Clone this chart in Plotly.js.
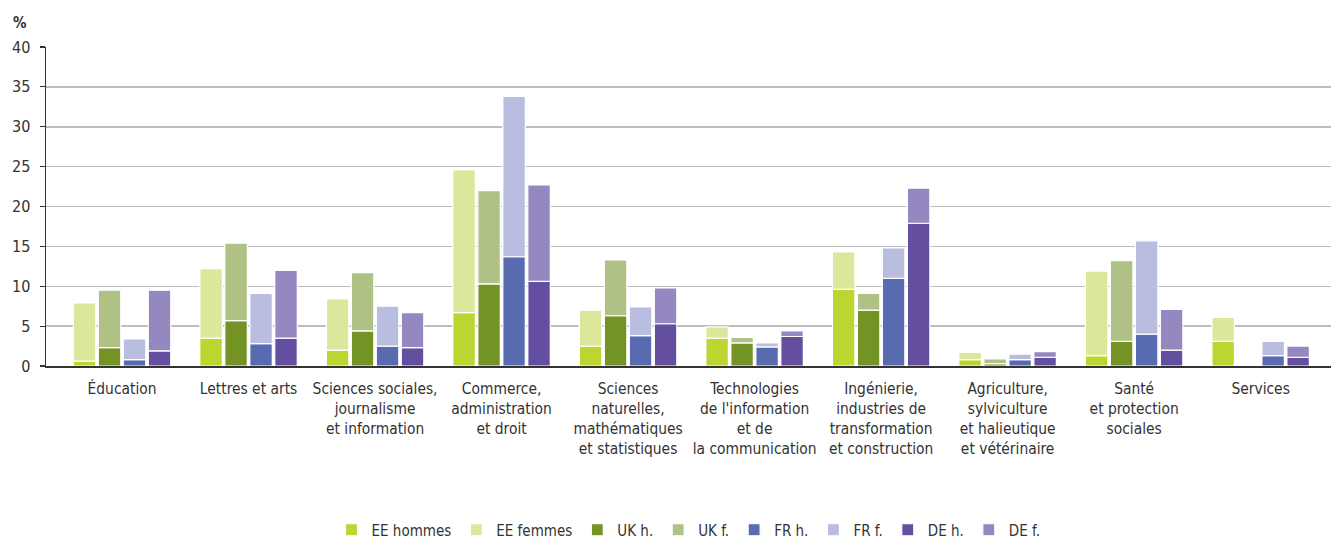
<!DOCTYPE html>
<html>
<head>
<meta charset="utf-8">
<script src="https://cdn.plot.ly/plotly-3.0.1.min.js"></script>
<style>
  html, body { margin: 0; padding: 0; background: #ffffff; }
  #chart { width: 1331px; height: 540px; }
</style>
</head>
<body>
<div id="chart"></div>
<script>
const categories = [
  "Éducation",
  "Lettres et arts",
  "Sciences sociales,<br>journalisme<br>et information",
  "Commerce,<br>administration<br>et droit",
  "Sciences<br>naturelles,<br>mathématiques<br>et statistiques",
  "Technologies<br>de l'information<br>et de<br>la communication",
  "Ingénierie,<br>industries de<br>transformation<br>et construction",
  "Agriculture,<br>sylviculture<br>et halieutique<br>et vétérinaire",
  "Santé<br>et protection<br>sociales",
  "Services"
];

// Men (h.) and women (f.) values, %
const eeHommes = [0.6, 3.5, 2.0, 6.7, 2.5, 3.5, 9.6, 0.8, 1.3, 3.1];
const eeFemmes = [7.3, 8.7, 6.4, 17.9, 4.5, 1.4, 4.7, 0.9, 10.6, 3.0];
const ukHommes = [2.3, 5.7, 4.4, 10.3, 6.3, 2.9, 7.0, 0.3, 3.1, null];
const ukFemmes = [7.2, 9.7, 7.3, 11.7, 7.0, 0.7, 2.1, 0.6, 10.1, null];
const frHommes = [0.8, 2.8, 2.5, 13.7, 3.8, 2.4, 11.0, 0.8, 4.0, 1.3];
const frFemmes = [2.6, 6.3, 5.0, 20.1, 3.6, 0.5, 3.8, 0.7, 11.7, 1.8];
const deHommes = [1.9, 3.5, 2.3, 10.6, 5.3, 3.7, 17.9, 1.1, 2.0, 1.1];
const deFemmes = [7.6, 8.5, 4.4, 12.1, 4.5, 0.7, 4.4, 0.7, 5.1, 1.4];

const yTicks = [0, 5, 10, 15, 20, 25, 30, 35, 40];

const FONT = '"Liberation Sans Narrow", "DejaVu Sans Condensed", "Arial Narrow", sans-serif';
const TXT = '#333333';

function bar(name, group, y, base, color) {
  const t = {
    type: 'bar',
    name: name,
    x: categories,
    y: y,
    offsetgroup: group,
    marker: { color: color, line: { color: '#ffffff', width: 1.2 } },
    hoverinfo: 'name+y'
  };
  if (base) t.base = base;
  return t;
}

const data = [
  bar('EE hommes', 'EE', eeHommes, null, '#bcd530'),
  bar('EE femmes', 'EE', eeFemmes, eeHommes, '#dce79b'),
  bar('UK h.', 'UK', ukHommes, null, '#739325'),
  bar('UK f.', 'UK', ukFemmes, ukHommes, '#afc184'),
  bar('FR h.', 'FR', frHommes, null, '#586bb0'),
  bar('FR f.', 'FR', frFemmes, frHommes, '#b9bde0'),
  bar('DE h.', 'DE', deHommes, null, '#634ea0'),
  bar('DE f.', 'DE', deFemmes, deHommes, '#9587bf')
];

const layout = {
  width: 1331,
  height: 540,
  margin: { l: 46, r: 0, t: 47, b: 174 },
  paper_bgcolor: '#ffffff',
  plot_bgcolor: '#ffffff',
  font: { family: FONT, size: 15.4, color: TXT },
  barmode: 'group',
  bargap: 0.21,
  bargroupgap: 0.1,
  showlegend: true,
  legend: {
    orientation: 'h',
    x: 0.5, xanchor: 'center', xref: 'paper',
    y: 0.0185, yanchor: 'middle', yref: 'container',
    font: { family: FONT, size: 15, color: TXT },
    traceorder: 'normal',
    itemwidth: 30,
    tracegroupgap: 0
  },
  xaxis: {
    type: 'category',
    range: [-0.601, 9.556],
    showline: true,
    linecolor: '#333333',
    linewidth: 1.5,
    ticks: '',
    showgrid: false,
    automargin: false,
    tickfont: { family: FONT, size: 15.4, color: TXT },
    ticklabelstandoff: 8
  },
  yaxis: {
    range: [0, 40],
    tickvals: yTicks,
    ticktext: yTicks.map(String),
    showline: true,
    linecolor: '#333333',
    linewidth: 1.5,
    ticks: 'outside',
    ticklen: 5,
    tickcolor: '#333333',
    tickwidth: 1.2,
    showgrid: true,
    gridcolor: '#bdbdbd',
    gridwidth: 1.5,
    zeroline: false,
    automargin: false,
    tickfont: { family: FONT, size: 16, color: TXT },
    ticklabelstandoff: 6
  },
  annotations: [{
    text: '<b>%</b>',
    xref: 'paper', yref: 'paper',
    x: 0, y: 1,
    xanchor: 'center', yanchor: 'bottom',
    xshift: -26, yshift: 13,
    showarrow: false,
    font: { family: FONT, size: 15, color: TXT }
  }]
};

Plotly.newPlot('chart', data, layout, { displayModeBar: false, staticPlot: true });
</script>
</body>
</html>
